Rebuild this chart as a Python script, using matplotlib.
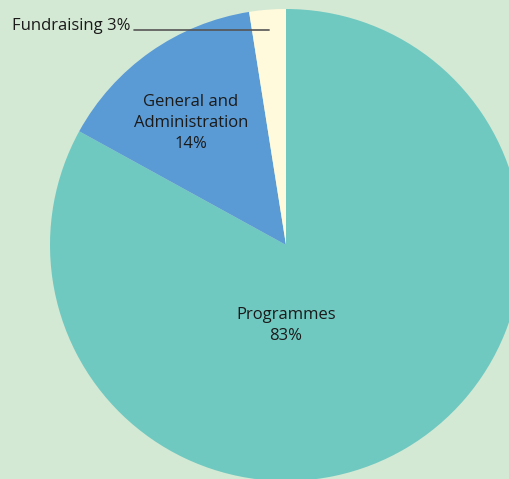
import matplotlib
matplotlib.use("Agg")
import matplotlib.pyplot as plt
import numpy as np

categories = ["Programmes", "General and\nAdministration", "Fundraising"]
values = [83, 14.5, 2.5]
pct_labels = ["83%", "14%", "3%"]
colors = ["#70c9c1", "#5b9bd5", "#fffadc"]
bg = "#d4e9d4"

W, H = 509, 479
fig = plt.figure(figsize=(W / 100, H / 100), dpi=100)
fig.patch.set_facecolor(bg)
cx, cy, r = 286, 245, 236
ax = fig.add_axes([(cx - r) / W, (H - cy - r) / H, 2 * r / W, 2 * r / H])
ax.set_facecolor(bg)
ax.axis("off")

wedges, _ = ax.pie(values, colors=colors, startangle=90, counterclock=False,
                   radius=1, wedgeprops=dict(linewidth=0))
ax.set_xlim(-1, 1)
ax.set_ylim(-1, 1)
ax.set_aspect("equal")
for w in wedges:
    w.set_clip_on(False)

font = "Open Sans"
fs = 12
ax.text(0, -0.34, f"{categories[0]}\n{pct_labels[0]}", ha="center", va="center",
        fontsize=fs, family=font, color="#1a1a1a", linespacing=1.38)
ax.text(-0.403, 0.517, f"{categories[1]}\n{pct_labels[1]}", ha="center", va="center",
        fontsize=fs, family=font, color="#1a1a1a", linespacing=1.38)

# leader for Fundraising
w = wedges[2]
mid = np.deg2rad((w.theta1 + w.theta2) / 2)
ly = (cy - 30) / r
xy = (ly / np.tan(mid), ly)
ax.annotate("", xy=xy, xycoords="data",
            xytext=(134 / W, 1 - 30 / H), textcoords="figure fraction",
            arrowprops=dict(arrowstyle="-", color="#555555", lw=1.2,
                            shrinkA=0, shrinkB=0),
            annotation_clip=False)
fig.text(12 / W, 1 - 30 / H, f"{categories[2]} {pct_labels[2]}", ha="left",
         va="baseline", fontsize=fs, family=font, color="#1a1a1a")

fig.savefig("out.png", dpi=100, facecolor=bg)
